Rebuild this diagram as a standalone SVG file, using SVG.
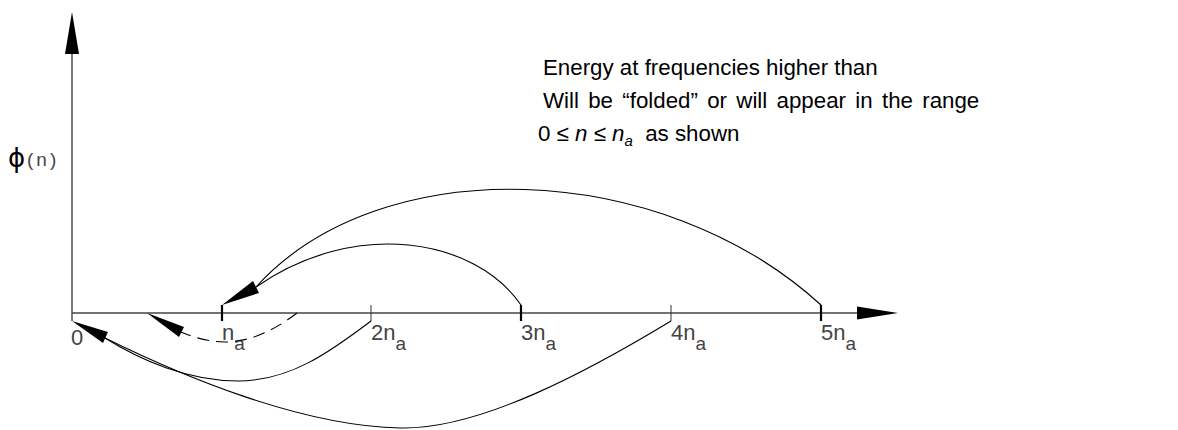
<svg xmlns="http://www.w3.org/2000/svg" width="1178" height="430" viewBox="0 0 1178 430">
<style>
.axis{stroke:#444;stroke-width:1.4;fill:none}
.tick{stroke:#000;stroke-width:2.2}
.tickthin{stroke:#333;stroke-width:1}
.curve{stroke:#000;stroke-width:1.1;fill:none}
.dash{stroke:#000;stroke-width:1.1;fill:none;stroke-dasharray:12 7}
.head{fill:#000}
.lbl{font-family:"Liberation Sans",Arial,sans-serif;font-size:22px;fill:#444}
.sub{font-size:19px}
.note{font-family:"Liberation Sans",Arial,sans-serif;font-size:22.3px;fill:#000}
</style>
<rect width="1178" height="430" fill="#fff"/>
<g id="axes">
  <line class="axis" x1="72" y1="50" x2="72" y2="321"/>
  <polygon class="head" points="72,12 65,54 79,54"/>
  <line class="axis" x1="72" y1="313" x2="860" y2="313"/>
  <polygon class="head" points="898,313 857,306.5 857,319.5"/>
  <text x="8" y="167" style="font-family:'DejaVu Sans','Liberation Sans',sans-serif;font-size:26px;fill:#000">ϕ</text>
  <text class="lbl" x="27" y="166" style="font-size:19px" letter-spacing="3">(n)</text>
</g>
<g id="ticks">
  <line class="tick" x1="222" y1="305" x2="222" y2="321"/>
  <line class="tickthin" x1="371" y1="305" x2="371" y2="321"/>
  <line class="tick" x1="521" y1="305" x2="521" y2="321"/>
  <line class="tickthin" x1="671" y1="305" x2="671" y2="321"/>
  <line class="tick" x1="821" y1="305" x2="821" y2="321"/>
</g>
<g id="label-0"><text class="lbl" x="71" y="345">0</text></g>
<g id="label-na"><text class="lbl" x="222" y="340">n<tspan class="sub" dy="10">a</tspan></text></g>
<g id="label-2na"><text class="lbl" x="371" y="340">2n<tspan class="sub" dy="10">a</tspan></text></g>
<g id="label-3na"><text class="lbl" x="521" y="340">3n<tspan class="sub" dy="10">a</tspan></text></g>
<g id="label-4na"><text class="lbl" x="671" y="340">4n<tspan class="sub" dy="10">a</tspan></text></g>
<g id="label-5na"><text class="lbl" x="821" y="340">5n<tspan class="sub" dy="10">a</tspan></text></g>
<g id="connectors">
  <path class="curve" d="M821,305 C660,158 380,150 256,287"/>
  <path class="curve" d="M521,305 C475,238 355,218 256,287"/>
  <polygon class="head" points="222,305 253,281 259,293"/>
  <path class="curve" d="M371,321 C330,352 290,381 238,381 C188,381 140,360 105,338"/>
  <path class="curve" d="M671,321 C590,370 480,430 400,428 C300,426 180,375 105,338"/>
  <polygon class="head" points="72,321 108,332 103,343"/>
  <path class="dash" d="M297,313 C275,330 250,342 225,342 C210,342 195,338 181,332"/>
  <polygon class="head" points="147,313 184,327 179,337"/>
</g>
<g id="note">
  <text class="note" x="543" y="75">Energy at frequencies higher than</text>
  <text class="note" x="543" y="108" word-spacing="3.1">Will be “folded” or will appear in the range</text>
  <text class="note" x="538" y="141" xml:space="preserve">0 ≤ <tspan font-style="italic">n</tspan> ≤ <tspan font-style="italic">n</tspan><tspan font-style="italic" font-size="15" dy="5">a</tspan><tspan dy="-5">  as shown</tspan></text>
</g>
</svg>
